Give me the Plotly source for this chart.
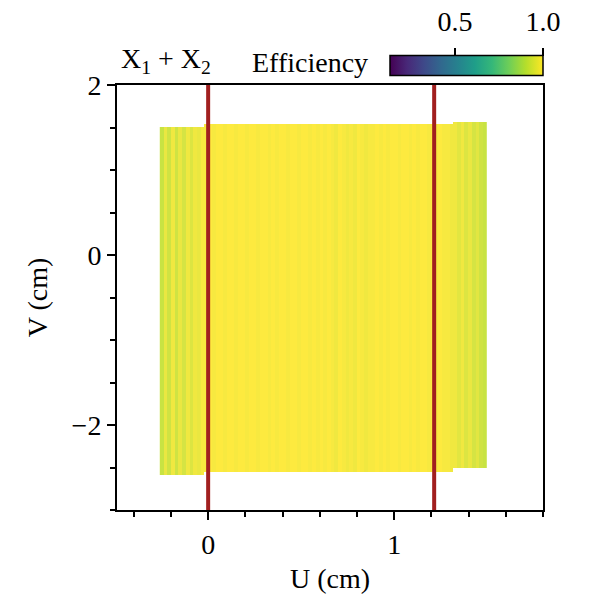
import plotly.graph_objects as go

# --- data -------------------------------------------------------------
# U bins (cm): 0.02 cm wide columns from -0.26 to 1.50
u_edges_start = -0.26
u_bin = 0.02

# Column efficiencies, left edge band / central region / right edge band
eff_left = [0.92, 0.97, 0.93, 0.98, 0.93, 0.97, 0.94, 0.98, 0.95, 0.98, 0.97, 0.99]
eff_center = [
    0.99, 1.00, 0.99, 1.00, 1.00, 0.99, 1.00, 1.00, 0.99, 1.00,
    1.00, 0.99, 1.00, 1.00, 0.99, 1.00, 1.00, 0.99, 1.00, 0.99,
    1.00, 1.00, 0.99, 1.00, 1.00, 0.99, 1.00, 1.00, 0.99, 1.00,
    0.99, 1.00, 0.99, 1.00, 0.99, 0.98, 1.00, 0.99, 0.98, 0.99,
    0.98, 1.00, 0.99, 0.98, 0.99, 0.99, 1.00, 0.99, 1.00, 0.99,
    1.00, 1.00, 0.99, 1.00, 1.00, 0.99, 1.00, 0.99, 1.00, 1.00,
    0.99, 1.00, 0.99, 1.00, 0.99, 0.99, 0.98,
]
eff_right = [0.98, 0.96, 0.98, 0.95, 0.97, 0.94, 0.96, 0.93, 0.92]

# V extent (cm) of the illuminated area for each band: (bottom, top)
v_extent_left = (-2.59, 1.51)
v_extent_center = (-2.56, 1.54)
v_extent_right = (-2.51, 1.56)

# V bins
v_start, v_stop, v_bin = -2.60, 1.57, 0.01

# Strip positions (cm)
strip_u = [0.0, 1.215]

# Colour scale range
eff_min, eff_max = 0.13, 1.0

# --- build grid -------------------------------------------------------
col_eff = eff_left + eff_center + eff_right
col_ext = ([v_extent_left] * len(eff_left) + [v_extent_center] * len(eff_center)
           + [v_extent_right] * len(eff_right))
u_centers = [u_edges_start + u_bin * (i + 0.5) for i in range(len(col_eff))]
n_v = int(round((v_stop - v_start) / v_bin))
v_centers = [v_start + v_bin * (j + 0.5) for j in range(n_v)]

z = []
for v in v_centers:
    row = []
    for e, (lo, hi) in zip(col_eff, col_ext):
        row.append(e if lo <= v <= hi else None)
    z.append(row)

font_family = "Liberation Serif"
fsize = 28

# figure geometry (pixels)
W, H = 590, 596
ML, MR, MT, MB = 117, 47, 40, 86
plot_w = W - ML - MR
plot_h = H - MT - MB


def px_x(px):
    return (px - ML) / plot_w


def px_y(py):
    return (H - MB - py) / plot_h


fig = go.Figure()
fig.add_trace(go.Heatmap(
    x=u_centers, y=v_centers, z=z,
    colorscale="Viridis", zmin=eff_min, zmax=eff_max,
    opacity=0.88, hoverongaps=False,
    colorbar=dict(
        orientation="h", x=px_x(390), xanchor="left", y=px_y(77), yanchor="bottom",
        len=153, lenmode="pixels", thickness=20, thicknessmode="pixels",
        outlinewidth=1.5, outlinecolor="black", xpad=0, ypad=0,
        ticks="", showticklabels=False,
    ),
))

# invisible trace carrying the colour-scale tick axis
fig.add_trace(go.Scatter(x=[eff_min, eff_max], y=[0, 0], xaxis="x2", yaxis="y2",
                         mode="markers", marker=dict(opacity=0), showlegend=False,
                         hoverinfo="skip"))

for u in strip_u:
    fig.add_shape(type="line", x0=u, x1=u, xref="x", y0=0, y1=1, yref="y domain",
                  line=dict(color="#a11f1f", width=4))

axis_common = dict(
    showline=True, linecolor="black", linewidth=2, mirror=True,
    ticks="outside", tickcolor="black", tickwidth=2, ticklen=8,
    showgrid=False, zeroline=False, automargin=False,
    tickfont=dict(family=font_family, size=fsize, color="black"),
)

fig.update_layout(
    width=W, height=H,
    margin=dict(l=ML, r=MR, t=MT, b=MB),
    paper_bgcolor="white", plot_bgcolor="white",
    font=dict(family=font_family, color="black"),
    showlegend=False,
    xaxis=dict(
        range=[-0.49, 1.8], tick0=0, dtick=1, domain=[0, 1],
        minor=dict(dtick=0.2, tick0=0, ticks="outside", ticklen=5, tickwidth=1.5, tickcolor="black"),
        title=dict(text="U (cm)", font=dict(family=font_family, size=fsize), standoff=10),
        **axis_common,
    ),
    yaxis=dict(
        range=[-3, 2], tick0=0, dtick=2, domain=[0, px_y(85)],
        minor=dict(dtick=0.5, tick0=0, ticks="outside", ticklen=5, tickwidth=1.5, tickcolor="black"),
        title=dict(text="V (cm)", font=dict(family=font_family, size=fsize), standoff=16),
        **axis_common,
    ),
    xaxis2=dict(
        range=[eff_min, eff_max], domain=[px_x(390), px_x(543)], anchor="y2", side="top",
        tickvals=[0.5, 1.0], ticktext=["0.5", "1.0"],
        ticks="outside", ticklen=8, tickwidth=1.5, tickcolor="black",
        ticklabelstandoff=6, automargin=False,
        showline=False, showgrid=False, zeroline=False,
        tickfont=dict(family=font_family, size=fsize, color="black"),
    ),
    yaxis2=dict(domain=[px_y(77), px_y(57)], anchor="x2", visible=False, range=[-1, 1],
                automargin=False),
    annotations=[
        dict(text="X<sub>1</sub> + X<sub>2</sub>", x=px_x(119), xref="paper", xanchor="left",
             y=px_y(80), yref="paper", yanchor="bottom", showarrow=False,
             font=dict(family=font_family, size=fsize)),
        dict(text="Efficiency", x=px_x(250), xref="paper", xanchor="left",
             y=px_y(80), yref="paper", yanchor="bottom", showarrow=False,
             font=dict(family=font_family, size=fsize)),
    ],
)

fig.write_html("out.html")
